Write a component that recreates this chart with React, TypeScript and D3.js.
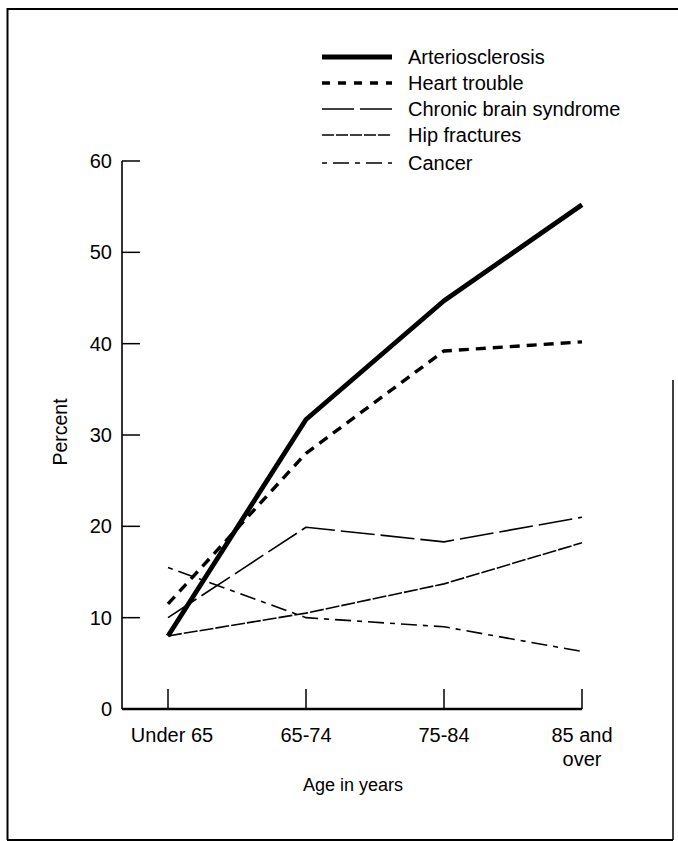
import React from "react";
import * as d3 from "d3";

const categories = ["Under 65", "65-74", "75-84", "85 and over"];
const categoryLabelLines = [["Under 65"], ["65-74"], ["75-84"], ["85 and", "over"]];
const yTicks = [0, 10, 20, 30, 40, 50, 60];

const arteriosclerosis = [8.0, 31.7, 44.7, 55.2];
const heartTrouble = [11.5, 28.0, 39.2, 40.2];
const chronicBrain = [10.0, 19.9, 18.3, 21.0];
const hipFractures = [8.0, 10.5, 13.7, 18.2];
const cancer = [15.5, 10.0, 9.0, 6.3];

const seriesNames = ["Arteriosclerosis", "Heart trouble", "Chronic brain syndrome", "Hip fractures", "Cancer"];
const seriesValues = [arteriosclerosis, heartTrouble, chronicBrain, hipFractures, cancer];

const styles = [
  { w: 4.8, dash: "none", legendDash: "none" },
  { w: 3.4, dash: "10,7", legendDash: "8,8" },
  { w: 1.6, dash: "34,6", legendDash: "32,6" },
  { w: 1.6, dash: "14,2", legendDash: "12,2" },
  { w: 1.6, dash: "5,6,16,6", legendDash: "5,6,16,6" },
];

const W = 678;
const H = 841;
const FONT = "'Liberation Sans', Arial, Helvetica, sans-serif";

export default function App() {
  const x = d3.scalePoint<string>().domain(categories).range([168, 582]);
  const y = d3.scaleLinear().domain([0, 60]).range([709, 161]);
  const axisX = 122;

  const line = d3
    .line<number>()
    .x((_, i) => x(categories[i]) as number)
    .y((d) => y(d));

  const legendY = [57, 83, 109, 135, 163];

  return (
    <svg
      width={W}
      height={H}
      style={{ position: "absolute", left: 0, top: 0, background: "#fff" }}
      fontFamily={FONT}
    >
      <rect x={0} y={0} width={W} height={H} fill="#fff" />
      {/* frame */}
      <path d={`M7.5,840 L7.5,9 L678,9`} fill="none" stroke="#000" strokeWidth={2} />
      <path d={`M7,840 L673,840`} fill="none" stroke="#000" strokeWidth={2} />
      <path d={`M673,380 L673,840`} fill="none" stroke="#000" strokeWidth={1.5} />

      {/* y axis */}
      <line x1={axisX} x2={axisX} y1={y(60)} y2={y(0)} stroke="#000" strokeWidth={1.6} />
      {yTicks.map((t) => (
        <g key={t}>
          {t > 0 && (
            <line x1={axisX} x2={axisX + 18} y1={y(t)} y2={y(t)} stroke="#000" strokeWidth={1.5} />
          )}
          <text x={112} y={y(t)} dy="0.35em" textAnchor="end" fontSize={20} fill="#000">
            {t}
          </text>
        </g>
      ))}
      <text
        transform={`translate(67,${432}) rotate(-90)`}
        textAnchor="middle"
        fontSize={19.5}
        fill="#000"
      >
        Percent
      </text>

      {/* x axis */}
      <line x1={axisX} x2={582} y1={y(0)} y2={y(0)} stroke="#000" strokeWidth={2.6} />
      {categories.map((c, i) => (
        <g key={c}>
          <line
            x1={x(c) as number}
            x2={x(c) as number}
            y1={y(0)}
            y2={y(0) - 20}
            stroke="#000"
            strokeWidth={1.5}
          />
          <text x={(x(c) as number) + (i === 0 ? 4 : 0)} y={742} textAnchor="middle" fontSize={20} fill="#000">
            {categoryLabelLines[i].map((l, j) => (
              <tspan key={j} x={(x(c) as number) + (i === 0 ? 4 : 0)} dy={j === 0 ? 0 : 24}>
                {l}
              </tspan>
            ))}
          </text>
        </g>
      ))}
      <text x={353} y={791} textAnchor="middle" fontSize={18} fill="#000">
        Age in years
      </text>

      {/* series */}
      {seriesValues.map((vals, i) => (
        <path
          key={seriesNames[i]}
          d={line(vals) as string}
          fill="none"
          stroke="#000"
          strokeWidth={styles[i].w}
          strokeDasharray={styles[i].dash}
          strokeLinejoin="round"
        />
      ))}

      {/* legend */}
      {seriesNames.map((n, i) => (
        <g key={n}>
          <line
            x1={322}
            x2={392}
            y1={legendY[i]}
            y2={legendY[i]}
            stroke="#000"
            strokeWidth={styles[i].w}
            strokeDasharray={styles[i].legendDash}
          />
          <text x={408} y={legendY[i]} dy="0.35em" fontSize={20} fill="#000">
            {n}
          </text>
        </g>
      ))}
    </svg>
  );
}
